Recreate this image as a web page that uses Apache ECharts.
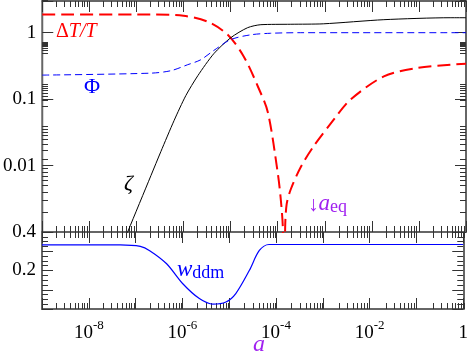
<!DOCTYPE html>
<html>
<head>
<meta charset="utf-8">
<script src="https://cdn.jsdelivr.net/npm/echarts@6/dist/echarts.min.js"></script>
<style>
  html, body { margin: 0; padding: 0; background: #fff; }
  #chart { width: 471px; height: 355px; }
</style>
</head>
<body>
<div id="chart"></div>
<script>
// scale factor a and the curves
var dtA = [1e-9, 2.0e-7, 1.0e-6, 3.3e-6, 8.7e-6, 1.9e-5, 3.8e-5, 6.2e-5, 1.0e-4, 1.15e-4, 1.29e-4, 1.35e-4, 1.44e-4, 1.55e-4, 1.9e-4, 3.1e-4, 5.8e-4, 1.55e-3, 3.5e-3, 1.8e-2, 9.3e-2, 0.47, 1]
var dtVal = [1.88, 1.88, 1.80, 1.46, 0.93, 0.44, 0.155, 0.063, 0.0079, 0.0034, 0.0011, 0.00001, 0.0011, 0.0026, 0.0044, 0.0095, 0.0195, 0.049, 0.098, 0.22, 0.295, 0.33, 0.34]

var zetaA = [4.7e-8, 6.6e-8, 2.04e-7, 3.3e-7, 6.3e-7, 1.12e-6, 2.02e-6, 4.4e-6, 1.01e-5, 2.3e-5, 4.4e-5, 1.9e-4, 9.3e-4, 1.8e-2, 0.46, 1]
var zetaVal = [0.00055, 0.00102, 0.0071, 0.0162, 0.0475, 0.113, 0.226, 0.483, 0.841, 1.19, 1.32, 1.34, 1.36, 1.57, 1.68, 1.68]

var phiA = [1e-9, 2.0e-7, 5.4e-7, 1.23e-6, 2.3e-6, 4.4e-6, 1e-5, 2.7e-5, 7e-5, 3.1e-4, 1]
var phiVal = [0.23, 0.246, 0.268, 0.33, 0.39, 0.54, 0.785, 0.93, 0.98, 1.0, 1.0]

var wA = [1e-9, 4.7e-8, 1.26e-7, 2.0e-7, 4.6e-7, 1.02e-6, 2.3e-6, 4.5e-6, 8.5e-6, 1.38e-5, 2.7e-5, 4.4e-5, 7.1e-5, 1]
var wVal = [0.333, 0.333, 0.325, 0.303, 0.235, 0.131, 0.054, 0.025, 0.036, 0.080, 0.201, 0.304, 0.335, 0.335]

// tick labels
var xLabelExp = [-8, -6, -4, -2, 0]
var yLogLabels = ['1', '0.1', '0.01']
var yLinLabels = ['0.2', '0.4']
// log minor tick multipliers
var minorMul = [2, 3, 4, 5, 6, 7, 8, 9]

function pairs(xs, ys) {
  return xs.map(function (x, i) { return [x, ys[i]] })
}

var serif = 'Liberation Serif'
var axisCol = '#666'
var tickCol = '#333'

// panel geometry (px)
var L = 42, R = 5, W = 471 - L - R
var T1 = 1, H1 = 231, T2 = 232, H2 = 77
var xDec = W / 9
var yDec = H1 / Math.log10(3000)

function logX(grid, pos, showLabel) {
  return {
    type: 'log',
    gridIndex: grid,
    position: pos,
    min: 1e-9,
    max: 1,
    axisLine: { show: true, onZero: false, lineStyle: { color: axisCol, width: 2 } },
    axisTick: { show: true, inside: true, length: 11, lineStyle: { color: tickCol, width: 1 } },
    splitLine: { show: false },
    axisLabel: {
      show: showLabel,
      margin: 10,
      formatter: function (v) {
        var e = Math.round(Math.log10(v))
        if (xLabelExp.indexOf(e) < 0) return ''
        if (e === 0) return '{b|1}'
        return '{b|10}{s|' + e + '}'
      },
      rich: {
        b: { fontFamily: serif, fontSize: 19, color: '#000', lineHeight: 24, verticalAlign: 'bottom' },
        s: { fontFamily: serif, fontSize: 13, color: '#000', lineHeight: 24, verticalAlign: 'top' }
      }
    }
  }
}

// axes that only carry the 2..9 minor ticks of a log decade
function minorLogAxis(grid, pos, min, max) {
  return {
    type: 'log', gridIndex: grid, position: pos, min: min, max: max,
    axisLine: { show: false, onZero: false },
    axisTick: { show: true, inside: true, length: 6, lineStyle: { color: tickCol, width: 1 } },
    axisLabel: { show: false },
    splitLine: { show: false }
  }
}
function hiddenAxis(grid) {
  return { type: 'value', gridIndex: grid, show: false, min: 0, max: 1 }
}

var grids = [
  { left: L, right: R, top: T1, height: H1 },
  { left: L, right: R, top: T2, height: H2 }
]
var xAxes = [
  logX(0, 'bottom', false),
  logX(0, 'top', false),
  logX(1, 'top', false),
  logX(1, 'bottom', true)
]
var yAxes = [
  {
    type: 'log', gridIndex: 0, position: 'left', min: 0.001, max: 3,
    axisLine: { show: true, lineStyle: { color: axisCol, width: 2 } },
    axisTick: { show: true, inside: true, length: 11, lineStyle: { color: tickCol } },
    splitLine: { show: false },
    axisLabel: {
      margin: 6, fontFamily: serif, fontSize: 19, color: '#000',
      formatter: function (v) {
        var s = String(Number(v.toPrecision(3)))
        return yLogLabels.indexOf(s) >= 0 ? s : ''
      }
    }
  },
  {
    type: 'log', gridIndex: 0, position: 'right', min: 0.001, max: 3,
    axisLine: { show: true, lineStyle: { color: axisCol, width: 2 } },
    axisTick: { show: true, inside: true, length: 11, lineStyle: { color: tickCol } },
    splitLine: { show: false },
    axisLabel: { show: false }
  },
  {
    type: 'value', gridIndex: 1, position: 'left', min: 0, max: 0.4, interval: 0.1,
    axisLine: { show: true, onZero: false, lineStyle: { color: axisCol, width: 2 } },
    axisTick: { show: true, inside: true, length: 11, lineStyle: { color: tickCol } },
    minorTick: { show: true, splitNumber: 4, length: 6, lineStyle: { color: tickCol } },
    splitLine: { show: false },
    axisLabel: {
      margin: 6, fontFamily: serif, fontSize: 19, color: '#000',
      formatter: function (v) {
        var s = v.toFixed(1)
        return yLinLabels.indexOf(s) >= 0 ? s : ''
      }
    }
  },
  {
    type: 'value', gridIndex: 1, position: 'right', min: 0, max: 0.4, interval: 0.1,
    axisLine: { show: true, onZero: false, lineStyle: { color: axisCol, width: 2 } },
    axisTick: { show: true, inside: true, length: 11, lineStyle: { color: tickCol } },
    minorTick: { show: true, splitNumber: 4, length: 6, lineStyle: { color: tickCol } },
    splitLine: { show: false },
    axisLabel: { show: false }
  }
]

// shifted grids so that their decade ticks fall on m * 10^k
minorMul.forEach(function (m) {
  var sx = Math.log10(m) * xDec
  var gTop = grids.length
  grids.push({ left: L + sx, width: 8 * xDec, top: T1, height: H1 })
  xAxes.push(minorLogAxis(gTop, 'bottom', 1e-9, 1e-1))
  xAxes.push(minorLogAxis(gTop, 'top', 1e-9, 1e-1))
  yAxes.push(hiddenAxis(gTop))
  var gBot = grids.length
  grids.push({ left: L + sx, width: 8 * xDec, top: T2, height: H2 })
  xAxes.push(minorLogAxis(gBot, 'top', 1e-9, 1e-1))
  xAxes.push(minorLogAxis(gBot, 'bottom', 1e-9, 1e-1))
  yAxes.push(hiddenAxis(gBot))
  var sy = Math.log10(m) * yDec
  var gY = grids.length
  grids.push({ left: L, width: W, top: T1 + H1 - sy - 4 * yDec, height: 4 * yDec })
  yAxes.push(minorLogAxis(gY, 'left', 1e-3, 10))
  yAxes.push(minorLogAxis(gY, 'right', 1e-3, 10))
  xAxes.push(hiddenAxis(gY))
})

var chart = echarts.init(document.getElementById('chart'))

chart.setOption({
  animation: false,
  backgroundColor: '#fff',
  grid: grids,
  xAxis: xAxes,
  yAxis: yAxes,
  series: [
    {
      name: 'dT/T', type: 'line', xAxisIndex: 0, yAxisIndex: 0,
      data: pairs(dtA, dtVal), showSymbol: false, smooth: 0.3, clip: true,
      lineStyle: { color: '#ff0000', width: 2, type: [13, 6] }
    },
    {
      name: 'zeta', type: 'line', xAxisIndex: 0, yAxisIndex: 0,
      data: pairs(zetaA, zetaVal), showSymbol: false, smooth: 0.25, clip: true,
      lineStyle: { color: '#000', width: 1 }
    },
    {
      name: 'Phi', type: 'line', xAxisIndex: 0, yAxisIndex: 0,
      data: pairs(phiA, phiVal), showSymbol: false, smooth: 0.3, clip: true,
      lineStyle: { color: '#0000ff', width: 1, type: [7, 4] }
    },
    {
      name: 'w_ddm', type: 'line', xAxisIndex: 3, yAxisIndex: 2,
      data: pairs(wA, wVal), showSymbol: false, smooth: 0.3, clip: true,
      lineStyle: { color: '#0000ff', width: 1.2 }
    }
  ],
  graphic: [
    {
      type: 'text', x: 56, y: 32,
      style: {
        text: '{n|Δ}{i|T/T}', verticalAlign: 'middle',
        rich: {
          n: { fontFamily: serif, fontSize: 20, fill: '#ff0000' },
          i: { fontFamily: serif, fontSize: 20, fontStyle: 'italic', fill: '#ff0000' }
        }
      }
    },
    {
      type: 'text', x: 84, y: 87,
      style: { text: 'Φ', fontFamily: serif, fontSize: 22, fill: '#0000ff', verticalAlign: 'middle' }
    },
    {
      type: 'text', x: 124, y: 184,
      style: { text: 'ζ', fontFamily: serif, fontSize: 22, fontStyle: 'italic', fill: '#000', verticalAlign: 'middle' }
    },
    {
      type: 'text', x: 308, y: 204,
      style: {
        text: '{r|↓}{a|a}{s|eq}', verticalAlign: 'middle',
        rich: {
          r: { fontFamily: serif, fontSize: 21, fill: '#a020f0', verticalAlign: 'bottom', lineHeight: 24 },
          a: { fontFamily: serif, fontSize: 23, fontStyle: 'italic', fill: '#a020f0', verticalAlign: 'top', lineHeight: 24 },
          s: { fontFamily: serif, fontSize: 18, fill: '#a020f0', verticalAlign: 'bottom', lineHeight: 24 }
        }
      }
    },
    {
      type: 'text', x: 177, y: 270,
      style: {
        text: '{w|w}{s|ddm}', verticalAlign: 'middle',
        rich: {
          w: { fontFamily: serif, fontSize: 23, fontStyle: 'italic', fill: '#0000ff', verticalAlign: 'top', lineHeight: 24 },
          s: { fontFamily: serif, fontSize: 18, fill: '#0000ff', verticalAlign: 'bottom', lineHeight: 24 }
        }
      }
    },
    {
      type: 'text', x: 259, y: 345,
      style: { text: 'a', fontFamily: serif, fontSize: 24, fontStyle: 'italic', fill: '#a020f0', align: 'center', verticalAlign: 'middle' }
    }
  ]
})
</script>
</body>
</html>
